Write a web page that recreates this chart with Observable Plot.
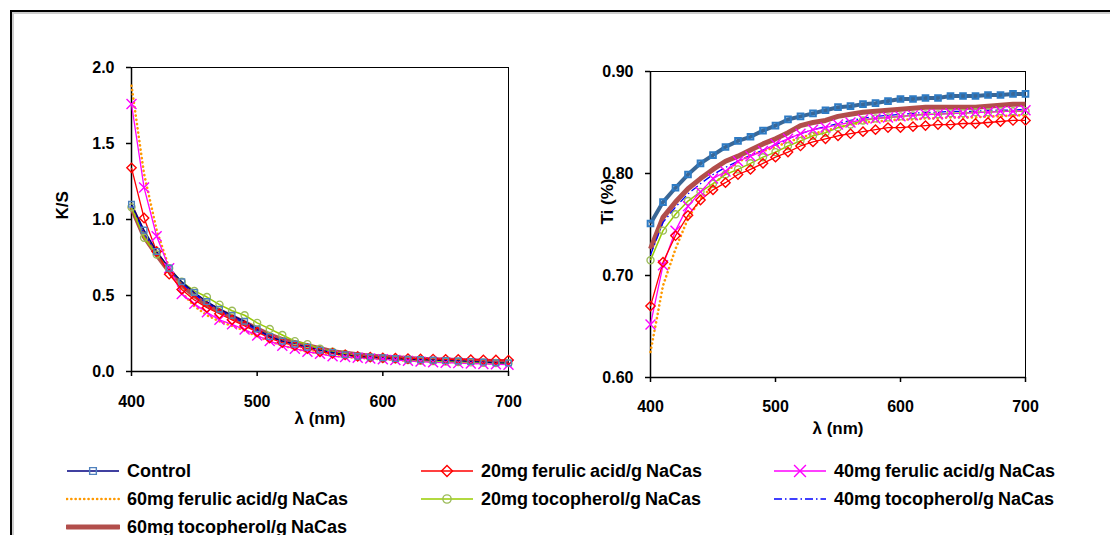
<!DOCTYPE html>
<html>
<head>
<meta charset="utf-8">
<script src="https://cdn.jsdelivr.net/npm/d3@7"></script>
<script src="https://cdn.jsdelivr.net/npm/@observablehq/plot@0.6"></script>
<style>
  html, body { margin: 0; padding: 0; background: #fff; }
  #wrap { position: relative; width: 1110px; height: 535px; overflow: hidden; background: #fff; font-family: "Liberation Sans", Arial, sans-serif; }
  #border { position: absolute; left: 10px; top: 10px; width: 1300px; height: 700px; border-top: 2px solid #000; border-left: 2px solid #000; box-shadow: inset 2px 2px 0 #ccc; }
  .plotbox { position: absolute; left: 0; top: 0; }
  .leg { position: absolute; display: flex; align-items: center; font-weight: bold; font-size: 18px; word-spacing: -1px; color: #000; white-space: nowrap; }
  .leg svg { margin-right: 7px; }
</style>
</head>
<body>
<div id="wrap">
  <div id="border"></div>
  <div id="left" class="plotbox"></div>
  <div id="right" class="plotbox"></div>
  <div id="legend"></div>
</div>
<script>
// ---- data ----
const wavelengths = [400,410,420,430,440,450,460,470,480,490,500,510,520,530,540,550,560,570,580,590,600,610,620,630,640,650,660,670,680,690,700];

const seriesNames = ["Control","20mg ferulic acid/g NaCas","40mg ferulic acid/g NaCas","60mg ferulic acid/g NaCas","20mg tocopherol/g NaCas","40mg tocopherol/g NaCas","60mg tocopherol/g NaCas"];

// K/S values
const ksControl = [1.10,0.93,0.79,0.68,0.59,0.52,0.46,0.41,0.37,0.33,0.28,0.23,0.20,0.18,0.16,0.14,0.125,0.11,0.10,0.095,0.09,0.085,0.08,0.078,0.075,0.072,0.07,0.066,0.062,0.058,0.056];
const ksFA20    = [1.34,1.01,0.79,0.64,0.54,0.47,0.42,0.38,0.34,0.30,0.26,0.22,0.19,0.17,0.15,0.13,0.12,0.11,0.10,0.095,0.09,0.088,0.085,0.083,0.082,0.08,0.08,0.078,0.077,0.076,0.075];
const ksFA40    = [1.76,1.21,0.89,0.68,0.51,0.445,0.39,0.34,0.31,0.276,0.237,0.20,0.17,0.15,0.13,0.116,0.10,0.095,0.09,0.085,0.08,0.075,0.07,0.065,0.06,0.058,0.055,0.052,0.05,0.047,0.045];
const ksFA60    = [1.88,1.30,0.93,0.68,0.52,0.43,0.37,0.33,0.30,0.27,0.23,0.20,0.17,0.15,0.13,0.12,0.105,0.095,0.09,0.085,0.08,0.075,0.072,0.068,0.065,0.062,0.06,0.058,0.055,0.053,0.05];
const ksT20     = [1.08,0.88,0.77,0.68,0.59,0.53,0.49,0.44,0.40,0.37,0.32,0.28,0.24,0.20,0.18,0.15,0.13,0.115,0.10,0.09,0.085,0.08,0.075,0.07,0.068,0.065,0.062,0.06,0.058,0.056,0.055];
const ksT40     = [1.09,0.91,0.78,0.67,0.58,0.51,0.45,0.40,0.36,0.32,0.27,0.23,0.20,0.18,0.16,0.14,0.12,0.11,0.10,0.09,0.085,0.08,0.075,0.07,0.068,0.065,0.062,0.06,0.058,0.056,0.054];
const ksT60     = [1.08,0.89,0.77,0.66,0.57,0.50,0.44,0.40,0.36,0.32,0.28,0.24,0.21,0.19,0.17,0.15,0.13,0.12,0.11,0.10,0.095,0.09,0.085,0.08,0.078,0.075,0.072,0.07,0.068,0.065,0.062];

// Ti values
const tiControl = [0.751,0.772,0.786,0.799,0.810,0.818,0.826,0.832,0.836,0.842,0.847,0.853,0.856,0.859,0.862,0.865,0.866,0.868,0.869,0.871,0.873,0.873,0.874,0.874,0.876,0.876,0.876,0.877,0.877,0.878,0.878];
const tiFA20    = [0.670,0.713,0.739,0.759,0.774,0.784,0.791,0.799,0.804,0.810,0.816,0.821,0.827,0.831,0.834,0.837,0.839,0.841,0.843,0.845,0.845,0.846,0.847,0.848,0.848,0.849,0.849,0.850,0.851,0.852,0.852];
const tiFA40    = [0.652,0.710,0.744,0.768,0.782,0.795,0.802,0.812,0.817,0.822,0.829,0.834,0.839,0.843,0.845,0.848,0.850,0.853,0.854,0.855,0.856,0.857,0.858,0.858,0.859,0.859,0.860,0.860,0.861,0.861,0.862];
const tiFA60    = [0.625,0.690,0.726,0.756,0.775,0.788,0.801,0.811,0.818,0.822,0.826,0.831,0.835,0.839,0.842,0.845,0.848,0.850,0.851,0.852,0.853,0.853,0.854,0.854,0.855,0.855,0.855,0.856,0.856,0.857,0.857];
const tiT20     = [0.715,0.744,0.760,0.773,0.782,0.790,0.799,0.804,0.810,0.816,0.821,0.827,0.832,0.837,0.840,0.845,0.848,0.852,0.854,0.855,0.856,0.857,0.858,0.858,0.859,0.859,0.860,0.860,0.861,0.861,0.861];
const tiT40     = [0.720,0.752,0.767,0.780,0.790,0.799,0.806,0.812,0.818,0.823,0.828,0.834,0.839,0.843,0.846,0.849,0.852,0.854,0.856,0.857,0.858,0.859,0.860,0.860,0.861,0.861,0.861,0.862,0.862,0.862,0.863];
const tiT60     = [0.726,0.757,0.772,0.785,0.795,0.804,0.812,0.817,0.823,0.829,0.834,0.840,0.847,0.850,0.852,0.856,0.858,0.860,0.861,0.862,0.863,0.864,0.865,0.865,0.865,0.865,0.865,0.866,0.867,0.868,0.868];

const ksTicks = [0, 0.5, 1.0, 1.5, 2.0];
const tiTicks = [0.60, 0.70, 0.80, 0.90];
const xTicks = [400, 500, 600, 700];

// ---- styles ----
const styles = [
  {line: "#000080", w: 1.3, dash: null, sym: "square2", mk: "#4F81BD", r: 3.6},
  {line: "#FF0000", w: 1.3, dash: null, sym: "diamond2", mk: "#FF0000", r: 4.2},
  {line: "#FF00FF", w: 1.3, dash: null, sym: "times", mk: "#FF00FF", r: 4.6},
  {line: "#FF9900", w: 2.6, dash: "0.1,4.2", sym: null},
  {line: "#99CC00", w: 1.5, dash: null, sym: "circle", mk: "#9BBB59", r: 3.5},
  {line: "#0000FF", w: 1.3, dash: "8,3,1.5,3", sym: null},
  {line: "#B24E4B", w: 5, dash: null, sym: null}
];

function toRows(arrs) {
  const rows = [];
  arrs.forEach((arr, i) => arr.forEach((v, j) => rows.push({s: i, x: wavelengths[j], y: v})));
  return rows;
}
const ksRows = toRows([ksControl, ksFA20, ksFA40, ksFA60, ksT20, ksT40, ksT60]);
const tiRows = toRows([tiControl, tiFA20, tiFA40, tiFA60, tiT20, tiT40, tiT60]);

function seriesMarks(rows, controlThick) {
  const marks = [];
  const order = [6, 5, 3, 4, 2, 1, 0];
  for (const i of order) {
    const st = styles[i];
    const data = rows.filter(d => d.s === i);
    let color = st.line, w = st.w;
    if (i === 0 && controlThick) { color = "#3A6796"; w = 4; }
    marks.push(Plot.line(data, {x: "x", y: "y", stroke: color, strokeWidth: w,
      strokeDasharray: st.dash || undefined, strokeLinecap: st.dash && st.dash.startsWith("0.1") ? "round" : "butt", curve: "linear"}));
  }
  for (const i of [4, 2, 1, 0]) {
    const st = styles[i];
    const data = rows.filter(d => d.s === i);
    let mk = st.mk, sw = 1.4;
    if (i === 0 && controlThick) { mk = "#2E7BC4"; sw = 2; }
    marks.push(Plot.dot(data, {x: "x", y: "y", symbol: () => st.sym, r: st.r, stroke: mk, strokeWidth: sw, fill: "none"}));
  }
  return marks;
}

const font = {fontFamily: "'Liberation Sans', Arial, sans-serif", fontSize: "16px", fontWeight: "bold", color: "#000", background: "transparent", overflow: "visible"};

// Left chart: K/S
const left = Plot.plot({
  width: 560, height: 440,
  marginLeft: 131, marginRight: 52, marginTop: 67, marginBottom: 69,
  style: font,
  x: {domain: [400, 700]},
  y: {domain: [0, 2]},
  marks: [
    Plot.frame({stroke: "#000", strokeWidth: 1}),
    Plot.axisX({ticks: xTicks, tickSize: 5, tickPadding: 19, tickFormat: d3.format("d"), label: null, stroke: "#000", strokeWidth: 1.5}),
    Plot.axisY({ticks: ksTicks, tickSize: 5, tickPadding: 12, tickFormat: d3.format(".1f"), label: null, strokeWidth: 1.5}),
    Plot.ruleY([0], {stroke: "#000", strokeWidth: 1.5}),
    Plot.ruleX([400], {stroke: "#000", strokeWidth: 1.5}),
    ...seriesMarks(ksRows, false),
    Plot.text(["K/S"], {text: d => d, frameAnchor: "left", dx: -69, rotate: -90, fontSize: 17, fontWeight: "bold", fill: "#000"}),
    Plot.text(["λ (nm)"], {text: d => d, frameAnchor: "bottom", dy: 52, fontSize: 17, fontWeight: "bold", fill: "#000"})
  ]
});
document.getElementById("left").appendChild(left);

// Right chart: Ti
const right = Plot.plot({
  width: 1110, height: 460,
  marginLeft: 650, marginRight: 85, marginTop: 71, marginBottom: 83,
  style: font,
  x: {domain: [400, 700]},
  y: {domain: [0.6, 0.9]},
  marks: [
    Plot.frame({stroke: "#000", strokeWidth: 1}),
    Plot.axisX({ticks: xTicks, tickSize: 5, tickPadding: 18, tickFormat: d3.format("d"), label: null, strokeWidth: 1.5}),
    Plot.axisY({ticks: tiTicks, tickSize: 5, tickPadding: 12, tickFormat: d3.format(".2f"), label: null, strokeWidth: 1.5}),
    Plot.ruleY([0.6], {stroke: "#000", strokeWidth: 1.5}),
    Plot.ruleX([400], {stroke: "#000", strokeWidth: 1.5}),
    ...seriesMarks(tiRows, true),
    Plot.text(["Ti (%)"], {text: d => d, frameAnchor: "left", dx: -43, rotate: -90, fontSize: 17, fontWeight: "bold", fill: "#000"}),
    Plot.text(["λ (nm)"], {text: d => d, frameAnchor: "bottom", dy: 56, fontSize: 17, fontWeight: "bold", fill: "#000"})
  ]
});
document.getElementById("right").appendChild(right);

// Legend
const legPos = [[66, 471], [420, 471], [773, 471], [66, 499], [420, 499], [773, 499], [66, 527]];
const legendEl = document.getElementById("legend");
seriesNames.forEach((name, i) => {
  const st = styles[i];
  const div = document.createElement("div");
  div.className = "leg";
  div.style.left = legPos[i][0] + "px";
  div.style.top = (legPos[i][1] - 11) + "px";
  div.style.height = "22px";
  const svg = d3.create("svg").attr("width", 54).attr("height", 14);
  svg.append("line").attr("x1", 1).attr("x2", 53).attr("y1", 7).attr("y2", 7)
    .attr("stroke", st.line).attr("stroke-width", i === 6 ? 5 : st.w)
    .attr("stroke-dasharray", st.dash).attr("stroke-linecap", i === 3 ? "round" : (i === 6 ? "round" : "butt"));
  if (st.sym) {
    const sym = {square2: d3.symbolSquare2, diamond2: d3.symbolDiamond2, times: d3.symbolTimes, circle: d3.symbolCircle}[st.sym];
    svg.append("path").attr("transform", "translate(27,7)")
      .attr("d", d3.symbol(sym, Math.PI * st.r * st.r * 1.4)())
      .attr("fill", "none").attr("stroke", st.mk).attr("stroke-width", 1.4);
  }
  div.appendChild(svg.node());
  const span = document.createElement("span");
  span.textContent = name;
  div.appendChild(span);
  legendEl.appendChild(div);
});
</script>
</body>
</html>
